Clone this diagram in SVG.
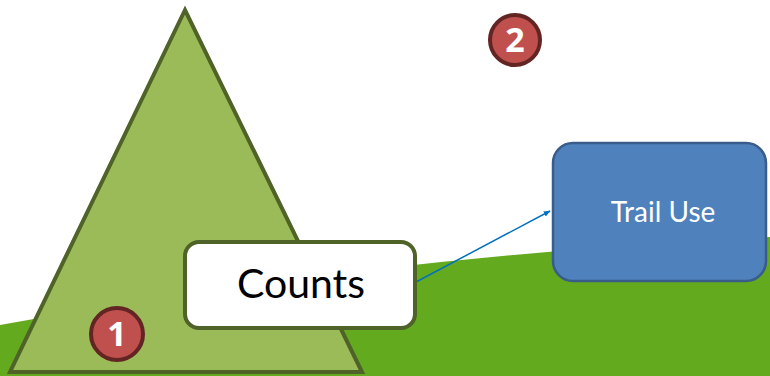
<svg xmlns="http://www.w3.org/2000/svg" width="770" height="376" viewBox="0 0 770 376">
  <style>
    .badge circle { fill: #c0504d; stroke: #632523; stroke-width: 4; }
    .badge text { fill: #ffffff; font-family: "Open Sans", "Liberation Sans", sans-serif; font-weight: bold; font-size: 34px; text-anchor: middle; }
    .label { font-family: Lato, "Open Sans", "Liberation Sans", sans-serif; text-anchor: middle; }
  </style>
  <defs>
    <marker id="arrow" viewBox="0 0 10 10" refX="9" refY="5" markerWidth="7" markerHeight="7" orient="auto" markerUnits="userSpaceOnUse">
      <path d="M0,1 L10,5 L0,9 Z" fill="#0070c0"/>
    </marker>
  </defs>
  <rect width="770" height="376" fill="#ffffff"/>
  <!-- ground -->
  <path id="ground" d="M0,325 Q380,256 770,237 L770,376 L0,376 Z" fill="#63aa1f"/>
  <!-- mountain -->
  <g id="mountain">
    <polygon points="185,10 10,372 362,372" fill="#9bbb59" stroke="#4f6228" stroke-width="4" stroke-linejoin="miter"/>
  </g>
  <g id="connectors">
    <line x1="416" y1="282" x2="550" y2="211" stroke="#0070c0" stroke-width="1.5" marker-end="url(#arrow)"/>
  </g>
  <g id="counts">
    <rect x="185" y="242" width="230" height="86" rx="14" fill="#ffffff" stroke="#4f6228" stroke-width="4"/>
    <text class="label" x="301" y="298" font-size="41" fill="#000000">Counts</text>
  </g>
  <g id="trail-use">
    <rect x="553" y="143" width="213" height="138" rx="20" fill="#4f81bd" stroke="#385d8a" stroke-width="2.5"/>
    <text class="label" x="663" y="222" font-size="28" fill="#ffffff">Trail Use</text>
  </g>
  <g id="badge-1" class="badge">
    <circle cx="117" cy="334" r="26"/>
    <text x="117" y="346">1</text>
  </g>
  <g id="badge-2" class="badge">
    <circle cx="515" cy="40" r="25"/>
    <text x="515" y="52">2</text>
  </g>
</svg>
